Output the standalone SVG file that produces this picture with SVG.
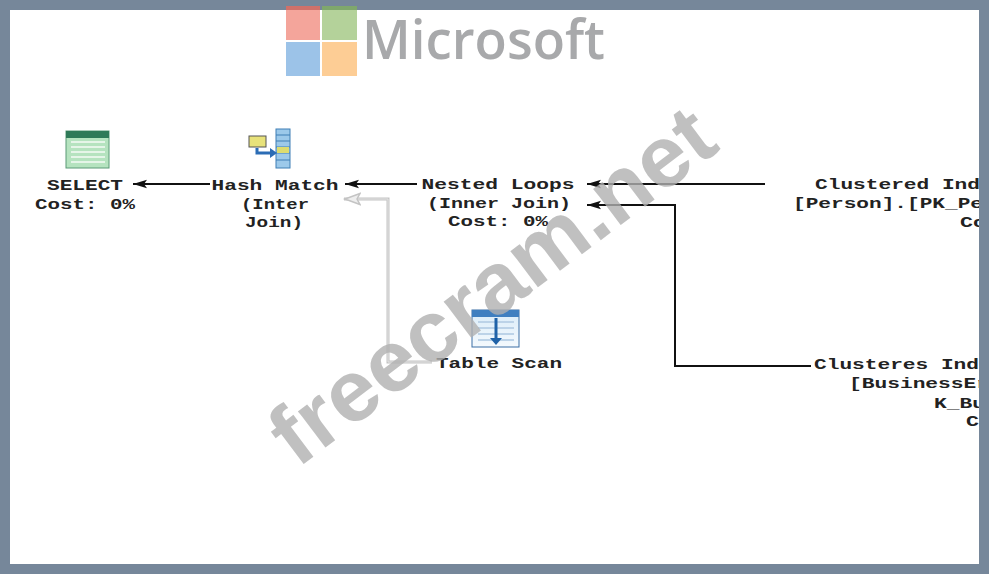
<svg xmlns="http://www.w3.org/2000/svg" width="989" height="574" viewBox="0 0 989 574">
<style>
.t{font-family:"Liberation Mono","Courier New",monospace;font-weight:bold;font-size:15px;fill:#222}
.c{fill:none;stroke:#111;stroke-width:2}
.g{fill:none;stroke:#c4c4c4;stroke-width:3}
.gi{fill:none;stroke:#e4e4e4;stroke-width:1}
</style>
<defs>
<marker id="a" markerWidth="16" markerHeight="10" refX="14" refY="5" orient="auto" markerUnits="userSpaceOnUse"><path d="M14 5L0 0.8L3 5L0 9.2Z" fill="#111"/></marker>
<marker id="b" markerWidth="20" markerHeight="16" refX="17" refY="8" orient="auto" markerUnits="userSpaceOnUse"><path d="M16 8L1 2.5L4 8L1 13.5Z" fill="#eee" stroke="#c4c4c4" stroke-width="1.5"/></marker>
<linearGradient id="tg" x1="0" y1="0" x2="0" y2="1"><stop offset="0" stop-color="#d9ecf9"/><stop offset="1" stop-color="#f4f9fd"/></linearGradient>
</defs>
<rect width="989" height="574" fill="#76879a"/>
<rect x="10" y="10" width="969" height="554" fill="#fff"/>
<g id="connectors">
<path class="c" d="M210 184H133" marker-end="url(#a)"/>
<path class="c" d="M417 184H345" marker-end="url(#a)"/>
<path class="c" d="M765 184H587" marker-end="url(#a)"/>
<path class="c" d="M811 366H675V205H587" marker-end="url(#a)"/>
<path class="g" d="M432 362H388V199H344" marker-end="url(#b)"/>
<path class="gi" d="M432 362H388V199H358"/>
</g>
<g id="select">
<rect x="66" y="131" width="43" height="37" fill="#b5e3bf" stroke="#5a9a76"/>
<rect x="66" y="131" width="43" height="7" fill="#2f7a58"/>
<path d="M71 142H105M71 147H105M71 152H105M71 157H105M71 162H105" stroke="#e5f5e8" stroke-width="2"/>
<text class="t" x="85" y="190" text-anchor="middle" textLength="76" lengthAdjust="spacingAndGlyphs">SELECT</text>
<text class="t" x="85" y="209" text-anchor="middle" textLength="100" lengthAdjust="spacingAndGlyphs">Cost: 0%</text>
</g>
<g id="hash-match">
<rect x="276" y="129" width="14" height="39" fill="#9cc9ea" stroke="#3f7fb5"/>
<path d="M276 135H290M276 141H290M276 147H290M276 153H290M276 160H290" stroke="#3f7fb5"/>
<rect x="277" y="147" width="12" height="6" fill="#dcdc70"/>
<rect x="249" y="136" width="17" height="11" fill="#e8e27a" stroke="#555"/>
<path d="M257 148V153H274" fill="none" stroke="#2b6cb5" stroke-width="3"/>
<path d="M270 148L277 153L270 158Z" fill="#2b6cb5"/>
<text class="t" x="275" y="190" text-anchor="middle" textLength="127" lengthAdjust="spacingAndGlyphs">Hash Match</text>
<text class="t" x="275" y="209" text-anchor="middle" textLength="68" lengthAdjust="spacingAndGlyphs">(Inter</text>
<text class="t" x="274" y="227" text-anchor="middle" textLength="58" lengthAdjust="spacingAndGlyphs">Join)</text>
</g>
<g id="nested-loops">
<text class="t" x="498" y="189" text-anchor="middle" textLength="153" lengthAdjust="spacingAndGlyphs">Nested Loops</text>
<text class="t" x="499" y="208" text-anchor="middle" textLength="144" lengthAdjust="spacingAndGlyphs">(Inner Join)</text>
<text class="t" x="498" y="226" text-anchor="middle" textLength="100" lengthAdjust="spacingAndGlyphs">Cost: 0%</text>
</g>
<g id="table-scan">
<rect x="472" y="310" width="47" height="37" fill="url(#tg)" stroke="#3a6ea5"/>
<rect x="472" y="310" width="47" height="7" fill="#3f7fc0"/>
<path d="M478 322H514M478 328H514M478 334H514M478 340H514" stroke="#bcd3e8" stroke-width="2"/>
<path d="M496 318V340" stroke="#1f62a8" stroke-width="3"/>
<path d="M490 338H502L496 345Z" fill="#1f62a8"/>
<text class="t" x="499" y="368" text-anchor="middle" textLength="126" lengthAdjust="spacingAndGlyphs">Table Scan</text>
</g>
<g id="clustered-index-person">
<text class="t" x="815" y="189" textLength="165" lengthAdjust="spacingAndGlyphs">Clustered Ind</text>
<text class="t" x="793" y="208" textLength="190" lengthAdjust="spacingAndGlyphs">[Person].[PK_Pe</text>
<text class="t" x="960" y="227" textLength="26" lengthAdjust="spacingAndGlyphs">Co</text>
</g>
<g id="clusteres-index-business">
<text class="t" x="814" y="369" textLength="165" lengthAdjust="spacingAndGlyphs">Clusteres Ind</text>
<text class="t" x="849" y="388" textLength="140" lengthAdjust="spacingAndGlyphs">[BusinessEr</text>
<text class="t" x="934" y="408" textLength="51" lengthAdjust="spacingAndGlyphs">K_Bu</text>
<text class="t" x="966" y="426" textLength="13" lengthAdjust="spacingAndGlyphs">C</text>
</g>
<rect x="979" y="0" width="10" height="574" fill="#76879a"/>
<g id="logo">
<rect x="286" y="6" width="34" height="34" fill="#f4a59b"/>
<rect x="322" y="6" width="35" height="34" fill="#b4d29a"/>
<rect x="286" y="42" width="34" height="34" fill="#9cc3e8"/>
<rect x="322" y="42" width="35" height="34" fill="#fdcd95"/>
<rect x="286" y="6" width="34" height="4" fill="#d0716a"/>
<rect x="322" y="6" width="35" height="4" fill="#7fa76c"/>
<text x="362" y="59" font-family="'Open Sans','Liberation Sans',sans-serif" font-weight="600" font-size="55" fill="#a8a9ab" textLength="243" lengthAdjust="spacingAndGlyphs">Microsoft</text>
</g>
<text id="watermark" x="0" y="0" transform="translate(297 469) rotate(-37)" font-family="'Liberation Sans',Arial,sans-serif" font-weight="bold" font-size="86" fill="#b0b0b0" fill-opacity="0.8" textLength="532" lengthAdjust="spacingAndGlyphs">freecram.net</text>
</svg>
